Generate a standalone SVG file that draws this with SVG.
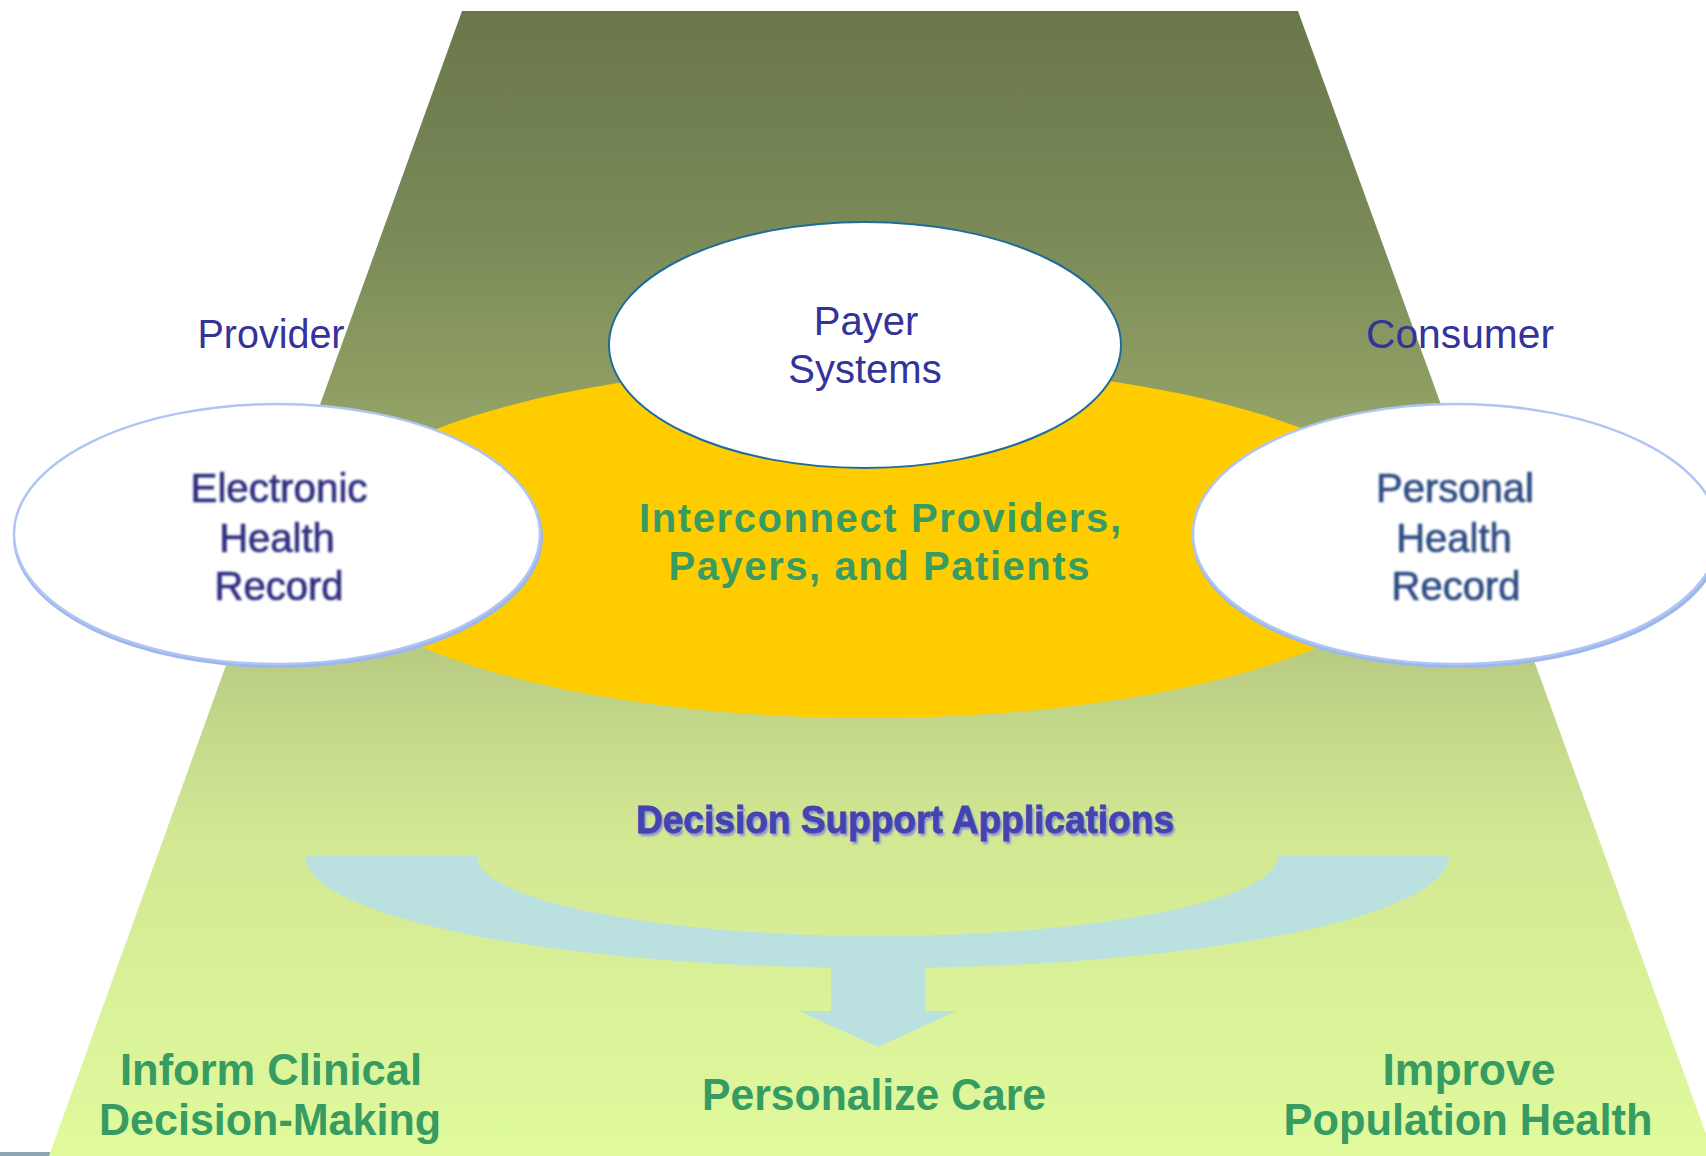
<svg xmlns="http://www.w3.org/2000/svg" width="1706" height="1156" viewBox="0 0 1706 1156">
<style>
.lbl{font-family:"Liberation Sans",Arial,sans-serif;fill:#333399;font-size:40px;text-anchor:middle}
.rec{font-family:"Liberation Sans",Arial,sans-serif;font-size:40px;text-anchor:middle;stroke-width:0.7}
.grn{font-family:"Liberation Sans",Arial,sans-serif;font-weight:bold;fill:#369C62;text-anchor:middle}
.dsa{font-family:"Liberation Sans",Arial,sans-serif;font-weight:bold;font-size:39px;text-anchor:middle}
.oval{fill:#FFFFFF;stroke:#AFC5F3;stroke-width:2.5}
</style>
<defs>
<linearGradient id="trap" gradientUnits="userSpaceOnUse" x1="0" y1="11" x2="0" y2="1156">
<stop offset="0" stop-color="#6A774B"/>
<stop offset="0.18" stop-color="#788856"/>
<stop offset="0.33" stop-color="#8E9E63"/>
<stop offset="0.62" stop-color="#C3D78A"/>
<stop offset="0.72" stop-color="#D2E893"/>
<stop offset="1" stop-color="#E0FA9D"/>
</linearGradient>
<filter id="soft" x="-5%" y="-20%" width="110%" height="140%">
<feGaussianBlur stdDeviation="0.8"/>
</filter>
</defs>
<rect width="1706" height="1156" fill="#FFFFFF"/>
<rect x="0" y="1152" width="50" height="4" fill="#8BA5B5"/>
<g id="background">
<polygon points="462,11 1298,11 1714,1156 49,1156" fill="url(#trap)"/>
<ellipse cx="870" cy="541" rx="560" ry="177" fill="#FFCC00"/>
</g>
<g id="connectors">
<path d="M305,856 A572,112 0 0 0 1449,856 L1278,856 A400.5,80 0 0 1 477,856 Z" fill="#BAE0E0"/>
<rect x="831" y="950" width="94" height="62" fill="#BAE0E0"/>
<polygon points="799,1011 956,1011 878,1047" fill="#BAE0E0"/>
</g>
<g id="interconnect">
<text class="grn" x="880" y="532" font-size="40" textLength="482" lengthAdjust="spacing">Interconnect Providers,</text>
<text class="grn" x="879" y="580" font-size="40" textLength="421" lengthAdjust="spacing">Payers, and Patients</text>
</g>
<g id="payer">
<ellipse cx="865" cy="345" rx="256" ry="123" fill="#FFFFFF" stroke="#1F6C9C" stroke-width="2"/>
<text class="lbl" x="866" y="335">Payer</text>
<text class="lbl" x="865" y="383">Systems</text>
</g>
<g id="provider-label">
<text class="lbl" x="271" y="348" textLength="147" lengthAdjust="spacingAndGlyphs">Provider</text>
</g>
<g id="consumer-label">
<text class="lbl" x="1460" y="348" textLength="188" lengthAdjust="spacingAndGlyphs">Consumer</text>
</g>
<g id="ehr">
<ellipse cx="278" cy="537" rx="265" ry="131" fill="#9DB7EC"/>
<ellipse class="oval" cx="277" cy="534" rx="263" ry="130"/>
<g filter="url(#soft)">
<text class="rec" x="279" y="502" fill="#2E2E80" stroke="#2E2E80" textLength="177" lengthAdjust="spacingAndGlyphs">Electronic</text>
<text class="rec" x="277" y="552" fill="#2E2E80" stroke="#2E2E80">Health</text>
<text class="rec" x="279" y="600" fill="#2E2E80" stroke="#2E2E80">Record</text>
</g>
</g>
<g id="phr">
<ellipse cx="1457" cy="537" rx="265" ry="131" fill="#9DB7EC"/>
<ellipse class="oval" cx="1456" cy="534" rx="263" ry="130"/>
<g filter="url(#soft)">
<text class="rec" x="1455" y="502" fill="#2D4C82" stroke="#2D4C82" textLength="158" lengthAdjust="spacingAndGlyphs">Personal</text>
<text class="rec" x="1454" y="552" fill="#2D4C82" stroke="#2D4C82">Health</text>
<text class="rec" x="1456" y="600" fill="#2D4C82" stroke="#2D4C82">Record</text>
</g>
</g>
<g id="decision-support">
<text class="dsa" x="907" y="836" fill="#8C8CD0" textLength="538" lengthAdjust="spacingAndGlyphs" filter="url(#soft)">Decision Support Applications</text>
<text class="dsa" x="905" y="833" fill="#4444B0" stroke="#4444B0" stroke-width="0.8" textLength="538" lengthAdjust="spacingAndGlyphs">Decision Support Applications</text>
</g>
<g id="outcomes">
<text class="grn" x="271" y="1085" font-size="44" textLength="302" lengthAdjust="spacingAndGlyphs">Inform Clinical</text>
<text class="grn" x="270" y="1135" font-size="44" textLength="342" lengthAdjust="spacingAndGlyphs">Decision-Making</text>
<text class="grn" x="874" y="1110" font-size="44" textLength="344" lengthAdjust="spacingAndGlyphs">Personalize Care</text>
<text class="grn" x="1469" y="1085" font-size="44" textLength="173" lengthAdjust="spacingAndGlyphs">Improve</text>
<text class="grn" x="1468" y="1135" font-size="44" textLength="369" lengthAdjust="spacingAndGlyphs">Population Health</text>
</g>
</svg>
